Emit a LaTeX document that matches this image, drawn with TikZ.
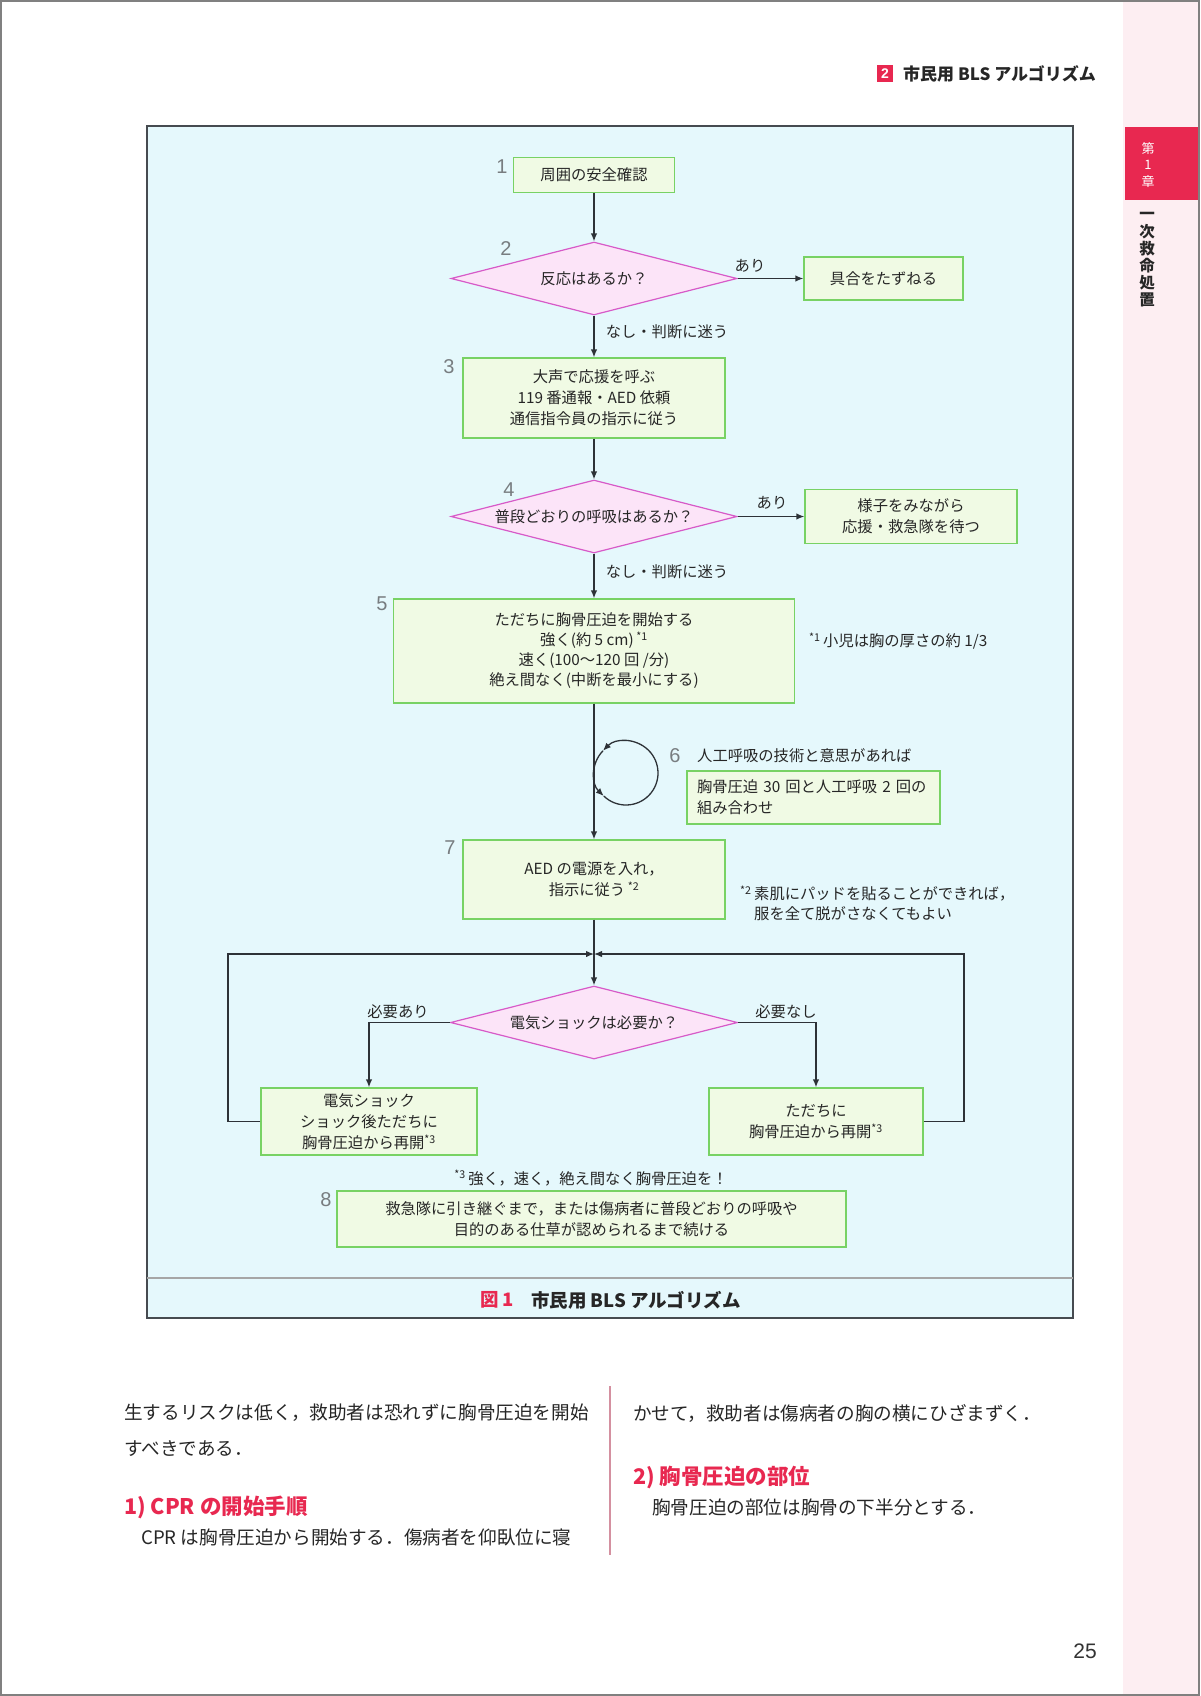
\documentclass[tikz,border=0pt]{standalone}
\usepackage{fontspec}
\usetikzlibrary{shapes.geometric,arrows.meta,calc}
\newfontfamily\jp{Noto Sans CJK JP}
\newfontfamily\numf{Liberation Sans}
\definecolor{figbg}{RGB}{229,248,252}
\definecolor{boxfill}{RGB}{240,250,228}
\definecolor{boxline}{RGB}{120,210,100}
\definecolor{diafill}{RGB}{252,228,248}
\definecolor{dialine}{RGB}{215,90,200}
\definecolor{linec}{RGB}{45,50,55}
\definecolor{stepgray}{RGB}{120,125,128}
\definecolor{accent}{RGB}{232,40,80}
\definecolor{pinkstrip}{RGB}{253,238,242}
\definecolor{divider}{RGB}{212,144,160}
\definecolor{framec}{RGB}{70,75,80}
\newcommand\diagfont{\jp\fontsize{15.3pt}{21pt}\selectfont}
\newcommand\diagfontB{\jp\fontsize{15.3pt}{20pt}\selectfont}
\newcommand\notefont{\jp\fontsize{15.3pt}{19.5pt}\selectfont}
\newcommand\bodyfont{\jp\fontsize{18.6pt}{22pt}\selectfont}
\begin{document}
\begin{tikzpicture}[x=1pt,y=-1pt,
  box/.style={draw=boxline, fill=boxfill, line width=1.3pt, inner sep=0pt, align=center, font=\diagfont, text=black!85},
  dia/.style={diamond, draw=dialine, fill=diafill, line width=1.2pt, inner sep=0pt, aspect=3.9, font=\diagfont, text=black!85, minimum width=286pt, minimum height=73pt},
  arr/.style={draw=linec, line width=1.3pt, -{Latex[length=8pt,width=6.5pt]}},
  conn/.style={draw=linec, line width=1.3pt},
  lbl/.style={font=\diagfont, inner sep=0pt, text=black!85},
  stepnum/.style={font=\numf\fontsize{20pt}{20pt}\selectfont, text=stepgray, inner sep=0pt},
  note/.style={font=\diagfont, inner sep=0pt, anchor=west, align=left, text=black!85},
  body/.style={font=\bodyfont, inner sep=0pt, anchor=west, text=black!85},
  head/.style={font=\jp\bfseries\fontsize{21.5pt}{21.5pt}\selectfont, inner sep=0pt, anchor=west, text=accent},
]
\useasboundingbox (0,0) rectangle (1200,1696);
\fill[white] (0,0) rectangle (1200,1696);
\fill[pinkstrip] (1123,0) rectangle (1200,1696);
\fill[accent] (1125,127) rectangle (1200,200);
\draw[gray, line width=2pt] (1,1) rectangle (1199,1695);

% side tab
\node[font=\jp\fontsize{13pt}{16.5pt}\selectfont, text=white, align=center, inner sep=0pt] (tab) at (1148,165) {第\\1\\章};
\node[font=\jp\bfseries\fontsize{15.5pt}{17.2pt}\selectfont, text=black!85, align=center, inner sep=0pt] (chap) at (1147,260) {一\\次\\救\\命\\処\\置};

% header
\node[fill=accent, text=white, font=\numf\bfseries\fontsize{14pt}{14pt}\selectfont, minimum width=16pt, minimum height=17pt, inner sep=0pt] (hnum) at (885,73.5) {2};
\node[font=\jp\bfseries\fontsize{17pt}{17pt}\selectfont, anchor=west, inner sep=0pt, text=black!85] (htitle) at (903,73.5) {市民用 BLS アルゴリズム};

% figure frame
\fill[figbg] (147,126) rectangle (1073,1318);
\draw[framec, line width=1.2pt] (147,126) rectangle (1073,1318);
\draw[framec, line width=2pt] (147,126) -- (1073,126);
\draw[gray!70, line width=1.5pt] (147,1278) -- (1073,1278);

% nodes
\node[box, minimum width=161pt, minimum height=35pt] (n1) at (594,175) {周囲の安全確認};
\node[dia] (d2) at (594,278.5) {反応はあるか？};
\node[box, minimum width=159pt, minimum height=43pt] (r2) at (883.5,278.5) {具合をたずねる};
\node[box, minimum width=262pt, minimum height=80pt] (n3) at (594,398) {大声で応援を呼ぶ\\119 番通報・AED 依頼\\通信指令員の指示に従う};
\node[dia] (d4) at (594,516.5) {普段どおりの呼吸はあるか？};
\node[box, minimum width=212pt, minimum height=54pt] (r4) at (911,516.5) {様子をみながら\\応援・救急隊を待つ};
\node[box, font=\diagfontB, minimum width=401pt, minimum height=104pt] (n5) at (594,651) {ただちに胸骨圧迫を開始する\\強く(約 5 cm)\,\textsuperscript{*1}\\速く(100〜120 回 /分)\\絶え間なく(中断を最小にする)};
\node[box, align=left, text width=233pt, inner xsep=10pt, minimum height=53pt] (n6) at (813.5,797.5) {胸骨圧迫 30 回と人工呼吸 2 回の\\組み合わせ};
\node[box, minimum width=262pt, minimum height=79pt] (n7) at (594,879.5) {AED の電源を入れ，\\指示に従う\,\textsuperscript{*2}};
\coordinate (j) at (594,954);
\coordinate (lc) at (228,954);
\coordinate (rc) at (964,954);
\node[dia, minimum width=287pt] (dE) at (594,1022.5) {電気ショックは必要か？};
\node[box, minimum width=216pt, minimum height=67pt] (nL) at (369,1121.5) {電気ショック\\ショック後ただちに\\胸骨圧迫から再開\textsuperscript{*3}};
\node[box, minimum width=214pt, minimum height=67pt] (nR) at (816,1121.5) {ただちに\\胸骨圧迫から再開\textsuperscript{*3}};
\node[box, minimum width=509pt, minimum height=56pt] (n8) at (591.5,1219) {救急隊に引き継ぐまで，または傷病者に普段どおりの呼吸や\\目的のある仕草が認められるまで続ける};

% step numbers
\node[stepnum] (s1) at (502,167) {1};
\node[stepnum] (s2) at (506,249) {2};
\node[stepnum] (s3) at (449,367) {3};
\node[stepnum] (s4) at (509,490) {4};
\node[stepnum] (s5) at (382,604) {5};
\node[stepnum] (s6) at (675,756) {6};
\node[stepnum] (s7) at (450,848) {7};
\node[stepnum] (s8) at (326,1200) {8};

% labels
\node[lbl] (a2) at (750,266) {あり};
\node[lbl] (na2) at (667,332) {なし・判断に迷う};
\node[lbl] (a4) at (772,503) {あり};
\node[lbl] (na4) at (667,572) {なし・判断に迷う};
\node[lbl] (yes) at (398,1012) {必要あり};
\node[lbl] (no) at (786,1012) {必要なし};
\node[note] (f1) at (809,641) {\textsuperscript{*1}\,小児は胸の厚さの約 1/3};
\node[note] (t6) at (697,756) {人工呼吸の技術と意思があれば};
\node[note, font=\notefont] (f2) at (740,903) {\textsuperscript{*2}\,素肌にパッドを貼ることができれば，\\\hphantom{\textsuperscript{*2}\,}服を全て脱がさなくてもよい};
\node[lbl] (f3) at (591,1178) {\textsuperscript{*3}\,強く，速く，絶え間なく胸骨圧迫を！};

% connectors
\draw[arr] (n1) -- (d2);
\draw[arr] (d2) -- (r2);
\draw[arr] (d2) -- (n3);
\draw[arr] (n3) -- (d4);
\draw[arr] (d4) -- (r4);
\draw[arr] (d4) -- (n5);
\draw[arr] (n5) -- (n7);
\draw[conn] (n7) -- (j);
\draw[arr] (j) -- (dE);
\draw[arr] (dE.west) -| (nL.north);
\draw[arr] (dE.east) -| (nR.north);
\draw[arr] (nL.west) -| (lc) -- (j);
\draw[arr] (nR.east) -| (rc) -- (j);

% CPR loop
\coordinate (cc) at (626,773);
\draw[arr] ([shift={(136:32pt)}]cc) arc[start angle=136, end angle=226, radius=32pt];
\draw[arr] ([shift={(226:32pt)}]cc) arc[start angle=226, end angle=496, radius=32pt];

% caption
\node[font=\jp\bfseries\fontsize{18.5pt}{18.5pt}\selectfont, text=accent, anchor=west, inner sep=0pt] (cap1) at (480,1300) {図 1};
\node[font=\jp\bfseries\fontsize{18.5pt}{18.5pt}\selectfont, text=black!85, anchor=west, inner sep=0pt] (cap2) at (531,1300) {市民用 BLS アルゴリズム};

% body text
\node[body] (b1) at (124,1413) {生するリスクは低く，救助者は恐れずに胸骨圧迫を開始};
\node[body] (b2) at (124,1449) {すべきである．};
\node[head] (h1) at (124,1507) {1) CPR の開始手順};
\node[body] (b3) at (141,1537) {CPR は胸骨圧迫から開始する．傷病者を仰臥位に寝};
\draw[divider, line width=1.5pt] (610,1386) -- (610,1555);
\node[body] (b4) at (633,1413) {かせて，救助者は傷病者の胸の横にひざまずく．};
\node[head] (h2) at (633,1477) {2) 胸骨圧迫の部位};
\node[body] (b5) at (652,1507) {胸骨圧迫の部位は胸骨の下半分とする．};

\node[font=\numf\fontsize{21pt}{21pt}\selectfont, text=black!80, inner sep=0pt] (pnum) at (1085,1651) {25};
\end{tikzpicture}
\end{document}
